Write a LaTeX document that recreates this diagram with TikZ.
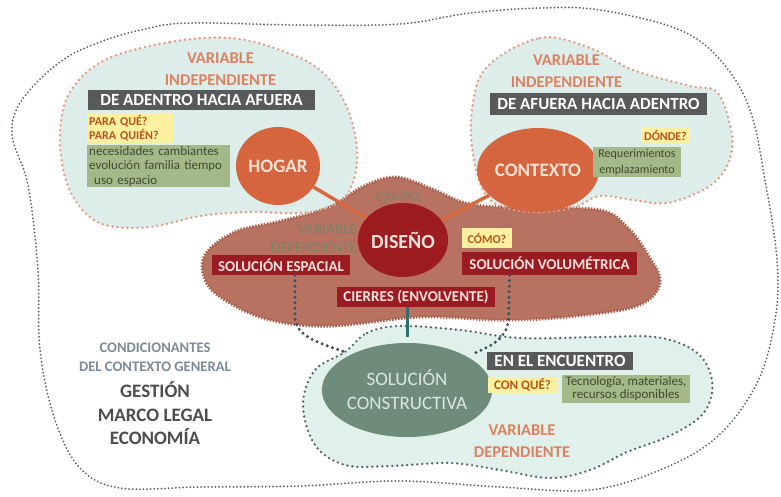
\documentclass[tikz,border=0pt]{standalone}
\usepackage{fontspec}
\setmainfont{Carlito}
\usetikzlibrary{calc,shapes.geometric}
\definecolor{outerdot}{HTML}{56616B}
\definecolor{salmondot}{HTML}{E39A82}
\definecolor{mint}{HTML}{DCEDEA}
\definecolor{mintb}{HTML}{E0F0EA}
\definecolor{field}{HTML}{B77262}
\definecolor{fieldedge}{HTML}{A9624F}
\definecolor{vartxt}{HTML}{DC8260}
\definecolor{darkbox}{HTML}{58595B}
\definecolor{redbox}{HTML}{9A1B22}
\definecolor{redtxt}{HTML}{F5E1DC}
\definecolor{yellowbox}{HTML}{FDF0A0}
\definecolor{yellowtxt}{HTML}{B4561A}
\definecolor{greenbox}{HTML}{A4B98A}
\definecolor{greentxt}{HTML}{3F4A2E}
\definecolor{orangecirc}{HTML}{D5653F}
\definecolor{circtxt}{HTML}{F8E2D6}
\definecolor{designred}{HTML}{9C1C1F}
\definecolor{consgreen}{HTML}{6F8C7B}
\definecolor{constxt}{HTML}{DCE7E0}
\definecolor{fieldtxt}{HTML}{7E8068}
\definecolor{condtxt}{HTML}{7D8B97}
\definecolor{gentxt}{HTML}{4D4D4F}
\definecolor{linkdot}{HTML}{36505F}
\definecolor{linkteal}{HTML}{2F6E6C}
\definecolor{linkorange}{HTML}{D8693F}
\tikzset{
  fs/.style n args={2}{font=\fontsize{#1}{#2}\selectfont},
  fsb/.style n args={2}{font=\fontsize{#1}{#2}\selectfont\bfseries},
  outerline/.style={draw=outerdot, line width=2pt, line cap=round, dash pattern=on 0pt off 3.6pt},
  salmonline/.style={draw=salmondot, line width=2.7pt, line cap=round, dash pattern=on 0pt off 5pt},
  grayline/.style={draw=outerdot, line width=2.6pt, line cap=round, dash pattern=on 0pt off 5pt},
  linkdots/.style={draw=linkdot, line width=3.3pt, line cap=round, dash pattern=on 0pt off 5.5pt},
  vartitle/.style={fsb={16.5}{22}, text=vartxt, align=center, inner sep=0pt},
  darklabel/.style={fill=darkbox, text=white, fsb={17}{20}, inner sep=0pt},
  redlabel/.style={fill=redbox, text=redtxt, fsb={15}{18}, inner sep=0pt},
  yellowlabel/.style={fill=yellowbox, text=yellowtxt, inner sep=0pt},
  greenlabel/.style={fill=greenbox, text=greentxt, inner sep=0pt},
  bigcirc/.style={ellipse, inner sep=0pt, fill=orangecirc, text=circtxt, fsb={19}{22}},
}
\begin{document}
\begin{tikzpicture}[x=1pt,y=-1pt]
\useasboundingbox (0,0) rectangle (781,496);
\fill[white] (0,0) rectangle (781,496);

% outer boundary: general context
\draw[outerline] plot[smooth cycle, tension=0.6] coordinates {
 (190,23) (300,25) (400,24) (470,13) (540,8) (600,10) (680,30) (722,62)
 (750,110) (765,180) (777,260) (775,320) (757,383) (717,437) (660,470)
 (590,490) (500,487) (400,481) (300,486) (200,487) (120,488) (80,468)
 (55,420) (40,350) (38,270) (28,185) (12,135) (22,100) (60,62) (100,42) (145,29)};

% fills of the three variable zones
\fill[mint] plot[smooth cycle, tension=0.6] coordinates {
 (105,60) (170,42) (230,38) (280,50) (320,70) (346,105) (357,150) (352,185)
 (335,205) (300,213) (250,212) (200,216) (150,227) (105,225) (80,207) (65,177) (60,133) (70,92)};
\fill[mint] plot[smooth cycle, tension=0.6] coordinates {
 (487,67) (540,38) (590,48) (633,70) (690,86) (717,92) (730,125) (732,150)
 (723,173) (703,190) (667,203) (633,200) (600,196) (572,208) (530,212) (490,200) (474,160) (472,110)};
\fill[mintb] plot[smooth cycle, tension=0.6] coordinates {
 (345,352) (367,333) (400,326) (460,330) (520,338) (600,337) (655,337) (690,348)
 (708,367) (712,393) (700,417) (667,437) (627,452) (590,470) (550,478) (500,470)
 (450,463) (390,466) (345,465) (315,445) (303,405) (315,370)};

% design field
\path[fill=field, draw=fieldedge, line width=3pt, dash pattern=on 1.5pt off 1.5pt]
 plot[smooth cycle, tension=0.6] coordinates {
 (205,255) (235,232) (285,220) (330,207) (362,187) (395,177) (430,188) (470,204)
 (530,208) (600,210) (628,228) (648,255) (660,283) (637,306) (567,317) (500,320)
 (420,317) (330,326) (270,320) (228,302) (206,282)};

% dotted outlines of the variable zones
\draw[salmonline] plot[smooth cycle, tension=0.6] coordinates {
 (105,60) (170,42) (230,38) (280,50) (320,70) (346,105) (357,150) (352,185)
 (335,205) (300,213) (250,212) (200,216) (150,227) (105,225) (80,207) (65,177) (60,133) (70,92)};
\draw[salmonline] plot[smooth cycle, tension=0.6] coordinates {
 (487,67) (540,38) (590,48) (633,70) (690,86) (717,92) (730,125) (732,150)
 (723,173) (703,190) (667,203) (633,200) (600,196) (572,208) (530,212) (490,200) (474,160) (472,110)};
\draw[grayline] plot[smooth cycle, tension=0.6] coordinates {
 (345,352) (367,333) (400,326) (460,330) (520,338) (600,337) (655,337) (690,348)
 (708,367) (712,393) (700,417) (667,437) (627,452) (590,470) (550,478) (500,470)
 (450,463) (390,466) (345,465) (315,445) (303,405) (315,370)};

% ---- upper left: HOGAR
\node[vartitle] (vi1) at (220.5,69) {VARIABLE\\INDEPENDIENTE};
\node[darklabel, minimum width=227pt, minimum height=20pt] (adentro) at (201.5,100) {DE ADENTRO HACIA AFUERA};
\node[yellowlabel, anchor=north west, minimum width=86pt, minimum height=30pt, text width=84pt, align=left, fsb={12}{14}] (paraque) at (87,113) {\hspace*{1pt}PARA QUÉ?\\\hspace*{1pt}PARA QUIÉN?};
\node[greenlabel, anchor=north west, minimum width=143pt, minimum height=42pt, text width=141pt, align=left, fs={13}{14.5}] (needs) at (87,145) {\hspace*{1pt}necesidades cambiantes\\\hspace*{1pt}evolución familia tiempo\\\hspace*{6pt}uso espacio};
\node[bigcirc, minimum width=84pt, minimum height=78pt] (hogar) at (278,166) {HOGAR};

% ---- upper right: CONTEXTO
\node[vartitle] (vi2) at (566.5,71) {VARIABLE\\INDEPENDIENTE};
\node[darklabel, minimum width=217pt, minimum height=22pt] (afuera) at (598.5,104) {DE AFUERA HACIA ADENTRO};
\node[bigcirc, minimum width=88pt, minimum height=84pt] (contexto) at (538,170) {CONTEXTO};
\node[yellowlabel, minimum width=49pt, minimum height=16pt, fsb={12}{14}] (donde) at (665.5,135) {DÓNDE?};
\node[greenlabel, minimum width=88pt, minimum height=30pt, align=center, fs={12}{16}] (requer) at (637,162) {Requerimientos\\emplazamiento};

% ---- design field
\node[fs={14}{16}, text=fieldtxt, inner sep=0pt] (campo) at (398,197) {CAMPO};
\node[fs={15}{18}, text=fieldtxt, inner sep=0pt, anchor=east, align=right] (vdep) at (357,239) {VARIABLE\\DEPENDIENTE};
\node[ellipse, inner sep=0pt, fill=designred, text=redtxt, fsb={20}{22}, minimum width=86pt, minimum height=74pt] (diseno) at (403,240) {DISEÑO};
\node[yellowlabel, minimum width=50pt, minimum height=20pt, fsb={12}{14}] (como) at (487,238) {CÓMO?};
\node[redlabel, minimum width=138pt, minimum height=20pt] (espacial) at (281,265) {SOLUCIÓN ESPACIAL};
\node[redlabel, minimum width=175pt, minimum height=23pt] (volum) at (549.5,263.5) {SOLUCIÓN VOLUMÉTRICA};
\node[redlabel, minimum width=158pt, minimum height=20pt] (cierres) at (416,297) {CIERRES (ENVOLVENTE)};

% ---- lower zone: constructive solution
\node[ellipse, inner sep=0pt, fill=consgreen, text=constxt, fs={19}{24}, align=center, minimum width=140pt, minimum height=94pt] (cons) at (407,390) {SOLUCIÓN\\CONSTRUCTIVA};
\node[darklabel, minimum width=146pt, minimum height=18pt] (encuentro) at (560,361) {EN EL ENCUENTRO};
\node[yellowlabel, minimum width=69pt, minimum height=16pt, fsb={13}{14}] (conque) at (522.5,385) {CON QUÉ?};
\node[greenlabel, minimum width=128pt, minimum height=28pt, align=center, fs={13}{13}] (tecno) at (626,389) {Tecnología, materiales,\\recursos disponibles};
\node[vartitle] (vd) at (522,441) {VARIABLE\\DEPENDIENTE};

% ---- general conditions
\node[fsb={14.6}{19}, text=condtxt, align=center, inner sep=0pt] (cond) at (155,357.5) {CONDICIONANTES\\DEL CONTEXTO GENERAL};
\node[fsb={19}{23.5}, text=gentxt, align=center, inner sep=0pt] (gest) at (155,413.5) {GESTIÓN\\MARCO LEGAL\\ECONOMÍA};

% ---- connectors
\coordinate (consL) at (345,352);
\coordinate (consR) at (475,353);
\draw[linkorange, line width=3.5pt] (hogar) -- (diseno);
\draw[linkorange, line width=3.5pt] (contexto) -- (diseno);
\draw[linkdots] ([xshift=14pt]espacial.south) -- ++(0,42) .. controls +(0,20) and +(-22,-8) .. (consL);
\draw[linkdots] ([xshift=-40pt]volum.south) -- ++(-1,45) .. controls +(-2,18) and +(18,-8) .. (consR);
\draw[linkteal, line width=3pt, shorten >=6pt] (cierres.south -| cons.north) -- (cons.north);
\end{tikzpicture}
\end{document}
